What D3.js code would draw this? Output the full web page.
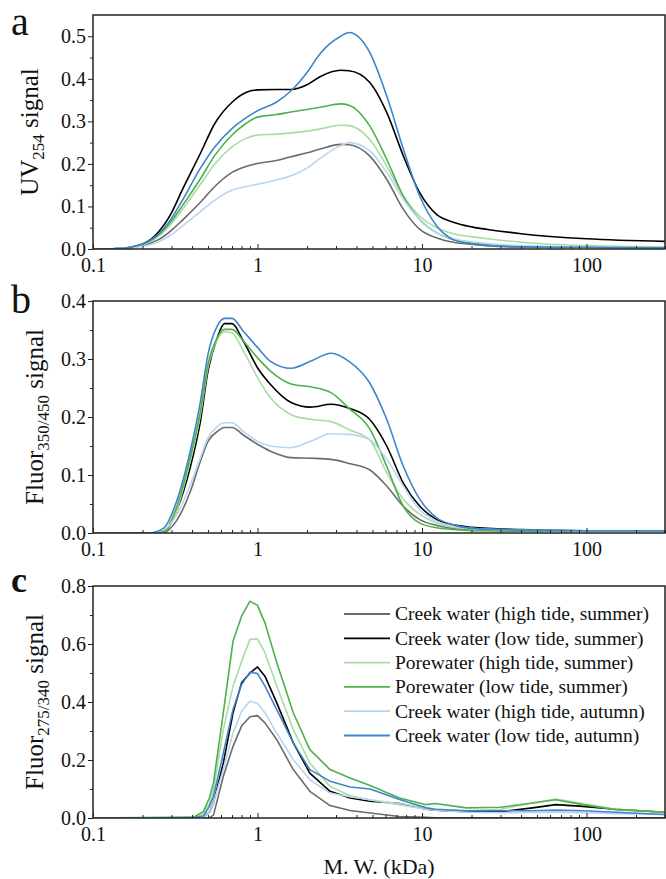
<!DOCTYPE html>
<html>
<head>
<meta charset="utf-8">
<script src="https://cdn.jsdelivr.net/npm/d3@7"></script>
<style>
  body { margin: 0; background: #fff; }
  svg { display: block; font-family: 'Liberation Serif', 'Times New Roman', serif; }
</style>
</head>
<body>
<script>
// series names, legend order (also draw order)
const seriesNames = [
  'Creek water (high tide, summer)',
  'Creek water (low tide, summer)',
  'Porewater (high tide, summer)',
  'Porewater (low tide, summer)',
  'Creek water (high tide, autumn)',
  'Creek water (low tide, autumn)'
]
const seriesColors = ['#6b6b6b', '#000000', '#a9dca2', '#4fb04b', '#bad5ef', '#3f84cb']

// panel a: UV254
const uvMW = [0.1, 0.14, 0.2, 0.25, 0.3, 0.35, 0.45, 0.55, 0.7, 0.85, 1, 1.3, 1.6, 2, 2.4, 3.2, 3.6, 4.8, 6.1, 7.7, 9.7, 12.3, 15.5, 20, 25, 40, 100, 300]
const uvCreekHighSummer = [0, 0.001, 0.008, 0.022, 0.044, 0.068, 0.11, 0.147, 0.18, 0.194, 0.201, 0.208, 0.217, 0.226, 0.235, 0.246, 0.245, 0.219, 0.164, 0.093, 0.046, 0.026, 0.016, 0.011, 0.008, 0.005, 0.004, 0.003]
const uvCreekLowSummer = [0, 0.001, 0.012, 0.04, 0.085, 0.14, 0.225, 0.295, 0.345, 0.368, 0.374, 0.375, 0.375, 0.386, 0.405, 0.42, 0.419, 0.392, 0.321, 0.219, 0.132, 0.081, 0.063, 0.052, 0.046, 0.036, 0.024, 0.018]
const uvPoreHighSummer = [0, 0.001, 0.01, 0.03, 0.06, 0.093, 0.152, 0.2, 0.24, 0.26, 0.268, 0.27, 0.273, 0.277, 0.282, 0.291, 0.29, 0.258, 0.195, 0.124, 0.077, 0.05, 0.036, 0.029, 0.024, 0.016, 0.008, 0.005]
const uvPoreLowSummer = [0, 0.001, 0.011, 0.033, 0.066, 0.102, 0.165, 0.22, 0.268, 0.295, 0.31, 0.316, 0.322, 0.328, 0.333, 0.341, 0.338, 0.29, 0.211, 0.124, 0.069, 0.038, 0.022, 0.014, 0.01, 0.006, 0.004, 0.003]
const uvCreekHighAutumn = [0, 0.001, 0.006, 0.017, 0.034, 0.054, 0.088, 0.115, 0.138, 0.147, 0.152, 0.162, 0.172, 0.19, 0.213, 0.243, 0.25, 0.231, 0.18, 0.117, 0.069, 0.038, 0.024, 0.017, 0.013, 0.008, 0.005, 0.004]
const uvCreekLowAutumn = [0, 0.001, 0.012, 0.035, 0.072, 0.115, 0.19, 0.24, 0.283, 0.308, 0.325, 0.345, 0.372, 0.415, 0.459, 0.5, 0.509, 0.463, 0.36, 0.235, 0.124, 0.054, 0.022, 0.012, 0.008, 0.005, 0.004, 0.003]

// panel b: Fluor 350/450
const hsMW = [0.1, 0.22, 0.27, 0.32, 0.39, 0.45, 0.5, 0.57, 0.63, 0.7, 0.82, 1, 1.2, 1.6, 2.1, 2.8, 3.6, 4.8, 6.1, 7.7, 9.7, 12.3, 15.5, 20, 40, 100, 300]
const hsCreekHighSummer = [0, 0, 0.001, 0.02, 0.071, 0.124, 0.158, 0.175, 0.182, 0.182, 0.169, 0.153, 0.141, 0.13, 0.129, 0.127, 0.12, 0.109, 0.081, 0.046, 0.023, 0.013, 0.008, 0.006, 0.004, 0.003, 0.003]
const hsCreekLowSummer = [0, 0, 0.002, 0.037, 0.113, 0.193, 0.279, 0.337, 0.361, 0.361, 0.331, 0.285, 0.256, 0.225, 0.217, 0.222, 0.215, 0.196, 0.15, 0.086, 0.046, 0.023, 0.014, 0.01, 0.006, 0.004, 0.004]
const hsPoreHighSummer = [0, 0, 0.002, 0.037, 0.124, 0.204, 0.285, 0.334, 0.347, 0.345, 0.314, 0.268, 0.233, 0.204, 0.196, 0.192, 0.178, 0.161, 0.104, 0.058, 0.032, 0.017, 0.01, 0.007, 0.004, 0.003, 0.003]
const hsPoreLowSummer = [0, 0, 0.003, 0.042, 0.13, 0.21, 0.291, 0.337, 0.351, 0.351, 0.331, 0.302, 0.279, 0.257, 0.252, 0.242, 0.215, 0.18, 0.115, 0.046, 0.017, 0.009, 0.006, 0.004, 0.003, 0.003, 0.003]
const hsCreekHighAutumn = [0, 0, 0.006, 0.029, 0.083, 0.13, 0.164, 0.184, 0.19, 0.19, 0.175, 0.158, 0.15, 0.147, 0.158, 0.171, 0.17, 0.161, 0.127, 0.081, 0.04, 0.02, 0.012, 0.008, 0.005, 0.004, 0.004]
const hsCreekLowAutumn = [0, 0, 0.009, 0.052, 0.141, 0.227, 0.308, 0.357, 0.37, 0.37, 0.348, 0.32, 0.296, 0.284, 0.296, 0.31, 0.296, 0.259, 0.196, 0.115, 0.058, 0.026, 0.014, 0.008, 0.005, 0.004, 0.004]

// panel c: Fluor 275/340
const prMW = [0.1, 0.41, 0.47, 0.51, 0.54, 0.62, 0.71, 0.8, 0.9, 1, 1.11, 1.31, 1.65, 2.08, 2.76, 3.65, 4.83, 7.3, 10.6, 12, 18.6, 30, 47, 65, 95, 150, 300]
const prCreekHighSummer = [0, 0, 0, 0.001, 0.01, 0.144, 0.247, 0.317, 0.349, 0.353, 0.328, 0.27, 0.167, 0.092, 0.043, 0.026, 0.017, 0.005, 0.002, 0.001, 0.001, 0.001, 0.001, 0.001, 0.001, 0.001, 0.001]
const prCreekLowSummer = [0, 0, 0.003, 0.02, 0.052, 0.19, 0.363, 0.466, 0.5, 0.521, 0.489, 0.397, 0.259, 0.155, 0.092, 0.069, 0.058, 0.05, 0.03, 0.027, 0.022, 0.022, 0.035, 0.046, 0.04, 0.03, 0.02]
const prPoreHighSummer = [0, 0, 0.017, 0.05, 0.098, 0.305, 0.455, 0.54, 0.616, 0.618, 0.57, 0.455, 0.305, 0.19, 0.109, 0.077, 0.062, 0.05, 0.035, 0.03, 0.025, 0.03, 0.052, 0.065, 0.05, 0.03, 0.02]
const prPoreLowSummer = [0, 0.003, 0.023, 0.07, 0.121, 0.363, 0.61, 0.696, 0.748, 0.733, 0.673, 0.535, 0.363, 0.236, 0.167, 0.138, 0.112, 0.069, 0.046, 0.05, 0.035, 0.037, 0.052, 0.063, 0.046, 0.029, 0.02]
const prCreekHighAutumn = [0, 0, 0.003, 0.02, 0.052, 0.167, 0.293, 0.368, 0.403, 0.395, 0.363, 0.293, 0.201, 0.132, 0.086, 0.073, 0.063, 0.045, 0.03, 0.027, 0.02, 0.018, 0.019, 0.02, 0.018, 0.015, 0.012]
const prCreekLowAutumn = [0, 0, 0.008, 0.04, 0.075, 0.224, 0.374, 0.46, 0.503, 0.498, 0.455, 0.374, 0.259, 0.167, 0.127, 0.107, 0.1, 0.064, 0.035, 0.03, 0.025, 0.025, 0.025, 0.027, 0.025, 0.02, 0.012]

const xMajor = [0.1, 1, 10, 100]
const xMinor = [0.2,0.3,0.4,0.5,0.6,0.7,0.8,0.9, 2,3,4,5,6,7,8,9, 20,30,40,50,60,70,80,90, 200,300]

const W = 666, H = 879
const left = 93, right = 665
const font = 'Liberation Serif, Times New Roman, serif'

const panels = [
  { letter: 'a', top: 15, bottom: 249, ymax: 0.55, major: [0,0.1,0.2,0.3,0.4,0.5], minor: [0.05,0.15,0.25,0.35,0.45],
    label: ['UV', '254', ' signal'], labelX: 38, letterY: 35, bold: false, curve: d3.curveMonotoneX,
    mw: uvMW, series: [uvCreekHighSummer, uvCreekLowSummer, uvPoreHighSummer, uvPoreLowSummer, uvCreekHighAutumn, uvCreekLowAutumn] },
  { letter: 'b', top: 301, bottom: 533, ymax: 0.4, major: [0,0.1,0.2,0.3,0.4], minor: [0.05,0.15,0.25,0.35],
    label: ['Fluor', '350/450', ' signal'], labelX: 43, letterY: 313, bold: false, curve: d3.curveMonotoneX,
    mw: hsMW, series: [hsCreekHighSummer, hsCreekLowSummer, hsPoreHighSummer, hsPoreLowSummer, hsCreekHighAutumn, hsCreekLowAutumn] },
  { letter: 'c', top: 586, bottom: 818, ymax: 0.8, major: [0,0.2,0.4,0.6,0.8], minor: [0.1,0.3,0.5,0.7],
    label: ['Fluor', '275/340', ' signal'], labelX: 43, letterY: 592, bold: true, curve: d3.curveLinear,
    mw: prMW, series: [prCreekHighSummer, prCreekLowSummer, prPoreHighSummer, prPoreLowSummer, prCreekHighAutumn, prCreekLowAutumn] }
]

const svg = d3.select('body').append('svg')
  .attr('width', W).attr('height', H)

const x = d3.scaleLog().domain([0.1, 300]).range([left, right])

panels.forEach((p, pi) => {
  const y = d3.scaleLinear().domain([0, p.ymax]).range([p.bottom, p.top])
  const g = svg.append('g')

  g.append('clipPath').attr('id', 'clip' + pi)
    .append('rect').attr('x', left).attr('y', p.top).attr('width', right - left).attr('height', p.bottom - p.top)

  const line = d3.line()
    .x((d, i) => x(p.mw[i]))
    .y(d => y(d))
    .curve(p.curve)

  g.append('g').attr('clip-path', `url(#clip${pi})`)
    .selectAll('path')
    .data(p.series)
    .join('path')
      .attr('d', d => line(d))
      .attr('fill', 'none')
      .attr('stroke', (d, i) => seriesColors[i])
      .attr('stroke-width', 1.6)
      .attr('stroke-linejoin', 'round')

  // x axis, ticks pointing inward
  const xa = g.append('g').attr('transform', `translate(0,${p.bottom})`)
    .call(d3.axisBottom(x).tickValues(xMajor).tickSize(-5).tickPadding(9).tickFormat(d => d))
  xa.append('g')
    .call(d3.axisBottom(x).tickValues(xMinor).tickSize(-3).tickFormat(''))
  xa.selectAll('.domain').remove()

  // y axis, ticks pointing out
  const ya = g.append('g').attr('transform', `translate(${left},0)`)
    .call(d3.axisLeft(y).tickValues(p.major).tickSize(5).tickPadding(2).tickFormat(d3.format('.1f')))
  ya.append('g')
    .call(d3.axisLeft(y).tickValues(p.minor).tickSize(3).tickFormat(''))
  ya.selectAll('.domain').remove()

  g.selectAll('.tick text').attr('font-size', 20).attr('font-family', font).attr('fill', '#111')
  g.selectAll('.tick line').attr('stroke', '#222').attr('stroke-width', 1)

  // frame
  g.append('rect')
    .attr('x', left).attr('y', p.top)
    .attr('width', right - left).attr('height', p.bottom - p.top)
    .attr('fill', 'none').attr('stroke', '#222').attr('stroke-width', 1.5)

  // y label with subscript
  const lab = g.append('text')
    .attr('transform', `translate(${p.labelX},${(p.top + p.bottom) / 2}) rotate(-90)`)
    .attr('text-anchor', 'middle')
    .attr('font-size', 25)
    .attr('fill', '#111')
  lab.append('tspan').text(p.label[0])
  lab.append('tspan').attr('font-size', 17).attr('dy', 6).text(p.label[1])
  lab.append('tspan').attr('dy', -6).text(p.label[2])

  // panel letter
  g.append('text')
    .attr('x', 11).attr('y', p.letterY)
    .attr('font-size', p.bold ? 36 : 40)
    .attr('font-weight', p.bold ? 'bold' : 'normal')
    .attr('fill', '#111')
    .text(p.letter)
})

// x axis title
svg.append('text')
  .attr('x', 379).attr('y', 874)
  .attr('text-anchor', 'middle')
  .attr('font-size', 22)
  .attr('fill', '#111')
  .text('M. W. (kDa)')

// legend in panel c
const legend = svg.append('g').attr('transform', 'translate(344,614)')
const rows = legend.selectAll('g')
  .data(seriesNames)
  .join('g')
    .attr('transform', (d, i) => `translate(0,${i * 24.3})`)
rows.append('line')
  .attr('x1', 0).attr('x2', 46)
  .attr('stroke', (d, i) => seriesColors[i])
  .attr('stroke-width', 1.8)
rows.append('text')
  .attr('x', 51).attr('dy', '0.33em')
  .attr('font-size', 19.5)
  .attr('fill', '#111')
  .text(d => d)
</script>
</body>
</html>
